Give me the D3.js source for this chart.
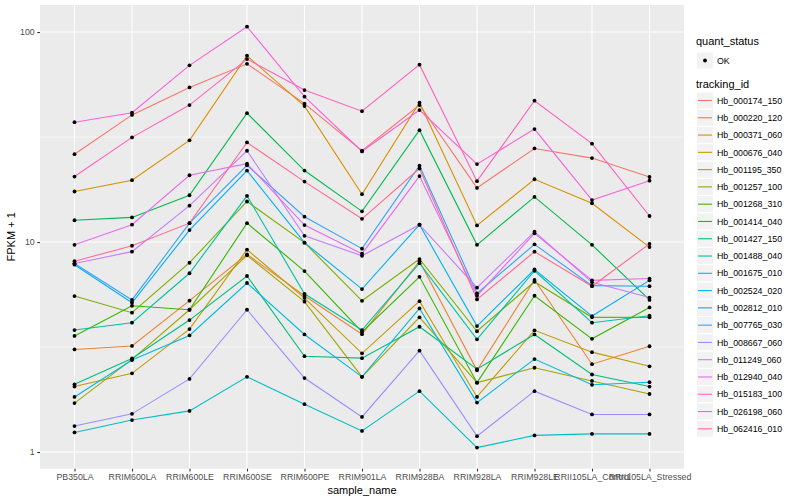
<!DOCTYPE html>
<html>
<head>
<meta charset="utf-8">
<script src="https://cdn.jsdelivr.net/npm/d3@7"></script>
<style>
  body { margin: 0; background: #fff; }
  text { font-family: "Liberation Sans", Arial, sans-serif; }
</style>
</head>
<body>
<div id="chart"></div>
<script>
const sampleNames = ["PB350LA", "RRIM600LA", "RRIM600LE", "RRIM600SE", "RRIM600PE", "RRIM901LA",
    "RRIM928BA", "RRIM928LA", "RRIM928LE", "RRII105LA_Control", "RRII105LA_Stressed"];

const trackingIds = ["Hb_000174_150", "Hb_000220_120", "Hb_000371_060", "Hb_000676_040", "Hb_001195_350",
    "Hb_001257_100", "Hb_001268_310", "Hb_001414_040", "Hb_001427_150", "Hb_001488_040",
    "Hb_001675_010", "Hb_002524_020", "Hb_002812_010", "Hb_007765_030", "Hb_008667_060",
    "Hb_011249_060", "Hb_012940_040", "Hb_015183_100", "Hb_026198_060", "Hb_062416_010"];

// FPKM + 1, one row per tracking_id, one value per sample
const fpkmPlus1 = [
    [26.2, 40.3, 54.5, 70.6, 45.6, 27.2, 44.9, 18.1, 27.9, 25.1, 20.4],
    [3.08, 3.2, 5.26, 8.74, 5.55, 3.64, 8.1, 2.45, 6.6, 2.62, 3.19],
    [17.4, 19.7, 30.5, 77.1, 44.4, 16.9, 46.1, 12.0, 19.9, 15.3, 9.46],
    [2.05, 2.37, 3.85, 9.2, 5.41, 2.95, 5.23, 1.83, 3.8, 2.99, 2.56],
    [1.71, 2.76, 4.76, 8.64, 5.2, 2.28, 4.38, 2.14, 2.52, 2.18, 1.89],
    [5.53, 4.61, 7.97, 15.6, 9.93, 5.25, 8.3, 3.76, 6.47, 4.38, 4.38],
    [3.57, 4.97, 4.76, 12.3, 7.27, 3.73, 6.83, 2.14, 5.55, 3.46, 4.88],
    [12.7, 13.1, 16.7, 41.1, 21.9, 14.0, 34.1, 9.7, 16.4, 9.7, 5.3],
    [2.10, 2.79, 4.25, 6.89, 2.86, 2.8, 3.95, 2.48, 3.63, 2.34, 2.05],
    [3.81, 4.13, 7.1, 16.6, 5.67, 3.81, 7.93, 3.44, 7.3, 4.13, 4.46],
    [1.24, 1.42, 1.57, 2.28, 1.69, 1.26, 1.95, 1.05, 1.2, 1.22, 1.22],
    [1.83, 2.74, 3.59, 6.38, 3.63, 2.28, 4.83, 1.72, 2.77, 2.09, 2.15],
    [7.8, 5.14, 11.4, 21.9, 9.93, 5.97, 12.1, 3.98, 7.4, 4.44, 6.57],
    [7.9, 5.3, 12.3, 23.2, 13.2, 9.3, 23.1, 5.7, 9.75, 6.2, 6.16],
    [1.33, 1.52, 2.23, 4.76, 2.25, 1.47, 3.04, 1.19, 1.95, 1.51, 1.51],
    [7.9, 9.0, 14.9, 27.2, 10.7, 8.6, 12.1, 6.06, 11.2, 6.43, 5.44],
    [9.7, 12.1, 20.8, 23.6, 12.05, 8.8, 20.6, 5.55, 11.0, 6.57, 6.7],
    [37.2, 41.3, 69.4, 106, 49.2, 27.0, 42.5, 23.5, 34.5, 15.85, 19.6],
    [20.5, 31.5, 44.9, 74.3, 52.9, 42.0, 69.9, 19.5, 47.1, 29.4, 13.3],
    [8.1, 9.6, 12.3, 29.8, 19.4, 12.9, 22.4, 5.33, 9.0, 6.16, 9.8]
];

const quantStatus = ["OK"];
const yTicks = [1, 10, 100];
const yMinor = [Math.sqrt(10), Math.sqrt(1000)];

// ggplot2 default hue palette for 20 levels
const hueColors = ["#F8766D", "#EA8331", "#D89000", "#C09B00", "#A3A500", "#7CAE00", "#39B600", "#00BB4E",
    "#00BF7D", "#00C1A3", "#00BFC4", "#00BAE0", "#00B0F6", "#35A2FF", "#9590FF", "#C77CFF",
    "#E76BF3", "#FA62DB", "#FF62BC", "#FF6C91"];

const W = 800, H = 500;
const panel = {left: 40, right: 684, top: 5, bottom: 468.7};

const svg = d3.select("#chart").append("svg")
    .attr("width", W)
    .attr("height", H);

const x = d3.scalePoint()
    .domain(sampleNames)
    .range([panel.left, panel.right])
    .padding(0.6);

const y = d3.scaleLog()
    .domain([0.833, 134.5])
    .range([panel.bottom, panel.top]);

const color = d3.scaleOrdinal().domain(trackingIds).range(hueColors);

// panel background + grid
svg.append("rect")
    .attr("x", panel.left).attr("y", panel.top)
    .attr("width", panel.right - panel.left)
    .attr("height", panel.bottom - panel.top)
    .attr("fill", "#EBEBEB");

svg.append("g").selectAll("line")
    .data(yMinor)
    .join("line")
    .attr("x1", panel.left).attr("x2", panel.right)
    .attr("y1", d => y(d)).attr("y2", d => y(d))
    .attr("stroke", "#fff").attr("stroke-width", 0.55);

svg.append("g").selectAll("line")
    .data(yTicks)
    .join("line")
    .attr("x1", panel.left).attr("x2", panel.right)
    .attr("y1", d => y(d)).attr("y2", d => y(d))
    .attr("stroke", "#fff").attr("stroke-width", 1.1);

svg.append("g").selectAll("line")
    .data(sampleNames)
    .join("line")
    .attr("x1", d => x(d)).attr("x2", d => x(d))
    .attr("y1", panel.top).attr("y2", panel.bottom)
    .attr("stroke", "#fff").attr("stroke-width", 1.1);

// lines
const series = trackingIds.map((id, i) => ({
    id: id,
    values: sampleNames.map((s, j) => ({sample: s, v: fpkmPlus1[i][j]}))
}));

const line = d3.line()
    .x(d => x(d.sample))
    .y(d => y(d.v));

svg.append("g").selectAll("path")
    .data(series)
    .join("path")
    .attr("d", d => line(d.values))
    .attr("fill", "none")
    .attr("stroke", d => color(d.id))
    .attr("stroke-width", 1.1);

// points
svg.append("g").selectAll("circle")
    .data(series.flatMap(d => d.values))
    .join("circle")
    .attr("cx", d => x(d.sample))
    .attr("cy", d => y(d.v))
    .attr("r", 1.9)
    .attr("fill", "#000");

// axes
const yAxis = svg.append("g")
    .attr("transform", `translate(${panel.left},0)`)
    .call(d3.axisLeft(y).tickValues(yTicks).tickFormat(d3.format("d")).tickSize(2.75).tickPadding(2.5));
yAxis.select(".domain").remove();
yAxis.selectAll(".tick line").attr("stroke", "#333").attr("stroke-width", 1.1);
yAxis.selectAll(".tick text").attr("fill", "#4D4D4D").style("font-size", "8.8px");

const xAxis = svg.append("g")
    .attr("transform", `translate(0,${panel.bottom})`)
    .call(d3.axisBottom(x).tickSize(2.75).tickPadding(2.5));
xAxis.select(".domain").remove();
xAxis.selectAll(".tick line").attr("stroke", "#333").attr("stroke-width", 1.1);
xAxis.selectAll(".tick text").attr("fill", "#4D4D4D").style("font-size", "8.8px");

svg.append("text")
    .attr("x", (panel.left + panel.right) / 2)
    .attr("y", 494)
    .attr("text-anchor", "middle")
    .style("font-size", "11px")
    .text("sample_name");

svg.append("text")
    .attr("transform", `translate(15,${(panel.top + panel.bottom) / 2}) rotate(-90)`)
    .attr("text-anchor", "middle")
    .style("font-size", "11px")
    .text("FPKM + 1");

// legends
const lg = svg.append("g").attr("transform", "translate(696,0)");

lg.append("text")
    .attr("x", 0).attr("y", 44.5)
    .style("font-size", "11px")
    .text("quant_status");

const qs = lg.append("g").selectAll("g")
    .data(quantStatus)
    .join("g")
    .attr("transform", (d, i) => `translate(0,${52 + i * 17.3})`);
qs.append("rect")
    .attr("x", 0.5).attr("y", 0)
    .attr("width", 17).attr("height", 17)
    .attr("fill", "#F2F2F2").attr("stroke", "#fff");
qs.append("circle")
    .attr("cx", 9).attr("cy", 8.5).attr("r", 1.9)
    .attr("fill", "#000");
qs.append("text")
    .attr("x", 21).attr("y", 11.7)
    .style("font-size", "8.8px")
    .text(d => d);

lg.append("text")
    .attr("x", 0).attr("y", 88)
    .style("font-size", "11px")
    .text("tracking_id");

const keys = lg.append("g").selectAll("g")
    .data(trackingIds)
    .join("g")
    .attr("transform", (d, i) => `translate(0,${92 + i * 17.28})`);
keys.append("rect")
    .attr("x", 0.5).attr("y", 0)
    .attr("width", 17).attr("height", 17)
    .attr("fill", "#F2F2F2").attr("stroke", "#fff");
keys.append("line")
    .attr("x1", 2).attr("x2", 16)
    .attr("y1", 8.5).attr("y2", 8.5)
    .attr("stroke", d => color(d))
    .attr("stroke-width", 1.1);
keys.append("text")
    .attr("x", 21).attr("y", 11.7)
    .style("font-size", "8.8px")
    .text(d => d);
</script>
</body>
</html>
